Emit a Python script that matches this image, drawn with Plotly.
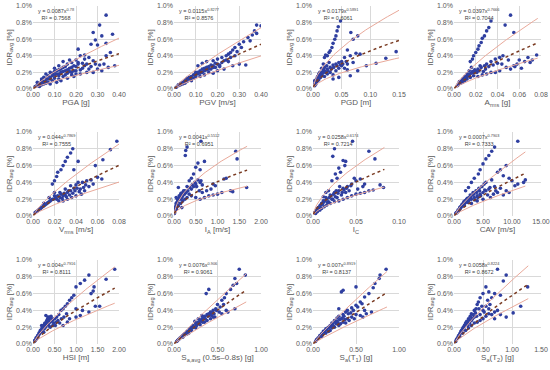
import numpy as np
import plotly.graph_objects as go

# ---------------- data (y in %) ----------------
pga_x = [0.34,0.31,0.28,0.37,0.32,0.29,0.30,0.34,0.21,0.27,0.36,0.26,0.22,0.24,0.20,0.18,0.16,0.14,0.12,0.10,0.13,0.15,0.17,0.19,0.21,0.23,0.25,0.27,0.29,0.30,0.31,0.33,0.35,0.38,0.32,0.28,0.25,0.22,0.19,0.16,0.14,0.12,0.11,0.09,0.08,0.07,0.06,0.05,0.04,0.03,0.02,0.01,0.02,0.05,0.07,0.09,0.10,0.13,0.15,0.18,0.20,0.23,0.26,0.17,0.06,0.04,0.12,0.08,0.11,0.03,0.24,0.21,0.28,0.34,
         0.02,0.03,0.04,0.05,0.06,0.07,0.08,0.09,0.10,0.11,0.12,0.13,0.14,0.15,0.16,0.17,0.18,0.19,0.20,0.22,0.04,0.06,0.08,0.10,0.12,0.14,0.16,0.18,0.20,0.24]
pga_y = [0.89,0.77,0.68,0.66,0.64,0.59,0.53,0.55,0.48,0.54,0.44,0.38,0.40,0.41,0.35,0.32,0.30,0.33,0.28,0.25,0.20,0.22,0.25,0.28,0.30,0.31,0.30,0.27,0.30,0.24,0.29,0.30,0.26,0.28,0.22,0.20,0.20,0.18,0.15,0.13,0.15,0.12,0.18,0.16,0.20,0.12,0.10,0.14,0.08,0.06,0.05,0.03,0.08,0.06,0.08,0.10,0.13,0.10,0.17,0.20,0.22,0.25,0.24,0.35,0.18,0.12,0.23,0.06,0.08,0.03,0.36,0.32,0.34,0.40,
         0.04,0.07,0.10,0.09,0.13,0.16,0.14,0.19,0.17,0.22,0.18,0.24,0.21,0.27,0.19,0.21,0.26,0.22,0.27,0.23,0.05,0.07,0.12,0.21,0.16,0.26,0.23,0.17,0.18,0.28]

pgv_x = [0.38,0.40,0.37,0.38,0.36,0.34,0.32,0.30,0.28,0.27,0.25,0.24,0.22,0.20,0.18,0.15,0.13,0.11,0.24,0.26,0.27,0.30,0.33,0.23,0.20,0.18,0.16,0.14,0.12,0.10,0.08,0.06,0.05,0.04,0.03,0.02,0.01,0.08,0.10,0.12,0.14,0.16,0.18,0.20,0.22,0.05,0.07,0.09,0.11,0.13,0.15,0.17,0.19,0.21,0.03,0.06,
         0.02,0.03,0.04,0.05,0.06,0.07,0.08,0.09,0.10,0.11,0.12,0.13,0.14,0.15,0.16,0.17,0.18,0.19,0.21,0.23,0.25,0.26,0.28,0.29,0.31,0.35]
pgv_y = [0.77,0.76,0.70,0.67,0.65,0.62,0.57,0.54,0.50,0.47,0.42,0.40,0.38,0.36,0.34,0.33,0.31,0.28,0.35,0.38,0.28,0.30,0.29,0.24,0.22,0.19,0.20,0.17,0.15,0.15,0.10,0.09,0.07,0.06,0.05,0.04,0.02,0.15,0.20,0.22,0.25,0.27,0.28,0.30,0.32,0.10,0.12,0.13,0.18,0.20,0.23,0.24,0.26,0.27,0.07,0.13,
         0.05,0.06,0.08,0.09,0.11,0.14,0.13,0.17,0.18,0.20,0.19,0.24,0.22,0.26,0.24,0.29,0.26,0.31,0.29,0.34,0.33,0.44,0.40,0.45,0.50,0.58]

pgd_x = [0.048,0.044,0.042,0.040,0.038,0.035,0.033,0.030,0.028,0.025,0.022,0.020,0.066,0.070,0.078,0.060,0.075,0.082,0.065,0.055,0.050,0.045,0.040,0.035,0.030,0.025,0.020,0.018,0.015,0.012,0.010,0.008,0.006,0.004,0.002,0.003,0.005,0.007,0.010,0.013,0.016,0.020,0.025,0.030,0.035,0.040,0.045,0.050,0.055,0.060,0.065,0.078,0.093,0.110,0.127,0.145,0.070,0.060,0.045,0.035,
         0.003,0.004,0.005,0.006,0.007,0.008,0.009,0.010,0.011,0.012,0.014,0.015,0.017,0.018,0.020,0.022,0.024,0.026,0.028,0.032,0.036,0.042,0.048,0.052,0.058]
pgd_y = [0.82,0.75,0.70,0.64,0.60,0.55,0.50,0.46,0.44,0.40,0.41,0.38,0.68,0.60,0.64,0.47,0.43,0.42,0.40,0.38,0.33,0.32,0.30,0.29,0.26,0.24,0.22,0.30,0.25,0.20,0.18,0.15,0.12,0.08,0.05,0.10,0.06,0.09,0.11,0.14,0.16,0.15,0.18,0.20,0.17,0.22,0.25,0.28,0.25,0.23,0.16,0.22,0.28,0.31,0.37,0.45,0.32,0.30,0.14,0.12,
         0.04,0.06,0.08,0.09,0.12,0.10,0.14,0.13,0.16,0.15,0.18,0.20,0.19,0.23,0.26,0.20,0.28,0.22,0.32,0.24,0.26,0.28,0.29,0.30,0.33]

arms_x = [0.052,0.047,0.055,0.034,0.032,0.030,0.028,0.026,0.025,0.023,0.022,0.020,0.018,0.017,0.015,0.076,0.072,0.068,0.065,0.060,0.058,0.055,0.050,0.045,0.042,0.038,0.034,0.030,0.028,0.025,0.022,0.020,0.048,0.052,0.056,0.062,0.070,0.042,0.038,0.034,0.030,0.026,0.022,0.018,0.015,0.012,0.010,0.008,0.006,0.004,0.003,0.012,0.014,0.016,0.010,0.008,0.005,0.018,
          0.004,0.005,0.006,0.007,0.008,0.009,0.010,0.011,0.012,0.013,0.014,0.016,0.017,0.019,0.021,0.023,0.024,0.027,0.029,0.032,0.036,0.040,0.044]
arms_y = [0.89,0.77,0.68,0.82,0.74,0.70,0.64,0.61,0.56,0.52,0.48,0.44,0.40,0.36,0.33,0.41,0.35,0.38,0.33,0.35,0.30,0.28,0.35,0.40,0.38,0.36,0.33,0.30,0.28,0.26,0.24,0.22,0.26,0.24,0.27,0.25,0.32,0.22,0.20,0.20,0.18,0.17,0.15,0.16,0.14,0.12,0.10,0.08,0.07,0.05,0.04,0.18,0.22,0.26,0.15,0.12,0.09,0.20,
          0.06,0.07,0.09,0.10,0.10,0.13,0.12,0.14,0.15,0.16,0.18,0.19,0.21,0.23,0.20,0.22,0.28,0.21,0.24,0.27,0.29,0.31,0.30]

vrms_x = [0.037,0.035,0.032,0.030,0.028,0.026,0.023,0.022,0.020,0.018,0.042,0.038,0.078,0.072,0.065,0.058,0.060,0.064,0.054,0.050,0.046,0.042,0.040,0.038,0.035,0.032,0.030,0.028,0.025,0.022,0.020,0.018,0.016,0.014,0.012,0.010,0.008,0.006,0.004,0.002,0.044,0.048,0.052,0.056,0.035,0.030,0.025,0.020,0.015,0.010,0.045,0.040,0.036,0.032,0.028,
          0.003,0.005,0.007,0.009,0.011,0.013,0.015,0.017,0.019,0.021,0.023,0.024,0.026,0.027,0.029,0.031,0.033,0.034,0.037,0.039,0.041,0.043,0.047,0.049]
vrms_y = [0.80,0.75,0.70,0.65,0.60,0.55,0.52,0.47,0.42,0.38,0.65,0.55,0.89,0.79,0.67,0.60,0.46,0.44,0.43,0.42,0.40,0.40,0.37,0.33,0.30,0.28,0.25,0.24,0.22,0.20,0.24,0.20,0.18,0.16,0.14,0.12,0.10,0.08,0.06,0.04,0.32,0.30,0.35,0.38,0.36,0.32,0.28,0.28,0.22,0.15,0.26,0.24,0.22,0.20,0.18,
          0.05,0.07,0.09,0.11,0.13,0.15,0.17,0.19,0.20,0.22,0.24,0.18,0.26,0.21,0.27,0.23,0.30,0.25,0.27,0.30,0.33,0.29,0.34,0.37]

ia_x = [0.30,0.27,0.26,0.62,1.42,1.45,0.70,0.55,0.50,0.60,0.45,0.40,0.35,0.55,0.60,0.65,0.50,0.45,0.40,0.30,0.25,0.20,0.10,0.15,0.12,0.08,0.05,0.03,0.02,0.01,0.06,0.10,0.15,0.20,0.25,0.30,0.35,0.40,0.50,0.60,0.70,0.80,0.90,1.00,1.10,1.30,1.35,1.67,0.90,0.95,1.15,1.20,0.75,0.85,0.65,0.05,0.08,0.18,
        0.02,0.03,0.04,0.05,0.06,0.07,0.08,0.09,0.10,0.12,0.14,0.16,0.18,0.20,0.22,0.24,0.28,0.32,0.36,0.42,0.48,0.52,0.58,0.62]
ia_y = [0.82,0.78,0.72,0.89,0.77,0.68,0.65,0.63,0.58,0.55,0.50,0.45,0.42,0.43,0.40,0.37,0.38,0.35,0.32,0.35,0.30,0.28,0.34,0.25,0.22,0.20,0.15,0.10,0.05,0.03,0.08,0.12,0.15,0.18,0.20,0.22,0.26,0.24,0.22,0.20,0.22,0.24,0.25,0.26,0.28,0.30,0.29,0.34,0.38,0.36,0.44,0.45,0.30,0.32,0.28,0.22,0.13,0.10,
        0.07,0.09,0.11,0.12,0.14,0.16,0.17,0.19,0.20,0.24,0.20,0.27,0.22,0.24,0.30,0.26,0.28,0.30,0.34,0.37,0.40,0.35,0.30,0.42]

ic_x = [0.046,0.025,0.023,0.065,0.072,0.035,0.038,0.030,0.037,0.032,0.026,0.028,0.022,0.048,0.055,0.050,0.045,0.040,0.035,0.030,0.025,0.020,0.018,0.015,0.012,0.010,0.008,0.006,0.004,0.002,0.003,0.005,0.008,0.010,0.013,0.016,0.020,0.025,0.030,0.035,0.040,0.045,0.050,0.055,0.060,0.065,0.070,0.078,0.082,0.060,0.058,0.042,0.038,0.033,0.028,0.022,0.018,0.012,0.015,
        0.003,0.004,0.005,0.006,0.007,0.009,0.011,0.012,0.014,0.016,0.017,0.019,0.021,0.023,0.024,0.026,0.027,0.029,0.031,0.034,0.036,0.039,0.044,0.052]
ic_y = [0.89,0.80,0.71,0.77,0.68,0.66,0.65,0.57,0.60,0.52,0.50,0.45,0.42,0.45,0.44,0.42,0.38,0.35,0.33,0.30,0.28,0.25,0.30,0.22,0.18,0.15,0.12,0.10,0.07,0.04,0.03,0.05,0.07,0.09,0.11,0.13,0.15,0.17,0.18,0.20,0.22,0.24,0.26,0.27,0.28,0.30,0.31,0.37,0.34,0.38,0.35,0.30,0.28,0.25,0.22,0.20,0.17,0.23,0.28,
        0.05,0.06,0.08,0.09,0.10,0.13,0.14,0.16,0.18,0.20,0.16,0.22,0.24,0.20,0.26,0.23,0.30,0.27,0.35,0.28,0.31,0.33,0.36,0.32]

cav_x = [11.0,7.0,6.5,6.0,5.5,5.0,4.5,4.2,3.5,3.0,2.5,2.0,9.0,8.0,7.5,6.5,8.5,9.5,10.0,11.0,12.3,12.0,10.5,9.0,8.0,7.0,6.0,5.5,5.0,4.5,4.0,3.5,3.0,2.5,2.0,1.5,1.0,0.5,0.3,0.8,1.2,1.8,2.2,2.8,3.3,3.8,4.3,4.8,5.2,5.8,6.3,6.8,7.5,8.5,9.5,3.0,4.0,5.0,5.5,
         0.4,0.6,0.7,0.9,1.0,1.1,1.3,1.4,1.6,1.7,1.9,2.1,2.3,2.4,2.6,2.7,2.9,3.1,3.4,3.6,3.9,4.1,4.4,4.6,5.3,6.2,7.2]
cav_y = [0.89,0.82,0.77,0.72,0.68,0.62,0.55,0.50,0.45,0.40,0.34,0.30,0.60,0.55,0.52,0.43,0.48,0.45,0.42,0.38,0.43,0.40,0.36,0.30,0.33,0.35,0.32,0.30,0.28,0.26,0.24,0.22,0.20,0.18,0.16,0.12,0.08,0.04,0.03,0.06,0.10,0.13,0.20,0.25,0.28,0.30,0.33,0.35,0.38,0.25,0.22,0.26,0.28,0.25,0.28,0.15,0.18,0.20,0.40,
         0.04,0.05,0.07,0.08,0.10,0.11,0.12,0.14,0.15,0.17,0.18,0.19,0.21,0.16,0.22,0.20,0.23,0.25,0.26,0.19,0.28,0.22,0.30,0.24,0.31,0.34,0.30]

hsi_x = [1.90,1.70,1.30,1.20,1.10,1.00,1.42,1.40,1.35,1.45,1.55,0.95,0.90,0.85,0.80,0.75,0.70,0.65,1.00,1.15,1.30,1.10,1.00,0.85,0.80,0.70,0.60,0.55,0.50,0.45,0.40,0.35,0.30,0.25,0.20,0.15,0.10,0.05,0.03,0.08,0.12,0.18,0.22,0.28,0.32,0.38,0.42,0.48,0.52,0.58,0.62,0.30,0.35,0.40,0.20,0.25,0.72,0.78,
         0.04,0.06,0.07,0.09,0.11,0.13,0.14,0.16,0.17,0.19,0.21,0.23,0.24,0.26,0.27,0.29,0.31,0.33,0.34,0.36,0.37,0.39,0.44,0.46,0.54,0.66]
hsi_y = [0.89,0.77,0.82,0.76,0.72,0.68,0.68,0.63,0.60,0.45,0.45,0.58,0.55,0.52,0.48,0.45,0.42,0.40,0.42,0.40,0.38,0.34,0.32,0.30,0.26,0.22,0.35,0.32,0.30,0.28,0.26,0.24,0.22,0.20,0.16,0.12,0.08,0.04,0.03,0.06,0.10,0.14,0.18,0.25,0.28,0.30,0.33,0.25,0.22,0.28,0.25,0.34,0.32,0.20,0.22,0.14,0.32,0.36,
         0.04,0.05,0.07,0.08,0.10,0.11,0.13,0.14,0.16,0.17,0.19,0.20,0.22,0.18,0.24,0.20,0.26,0.23,0.30,0.27,0.22,0.32,0.30,0.22,0.26,0.30]

saavg_x = [0.75,0.82,0.70,0.68,0.72,0.40,0.37,0.65,0.60,0.58,0.55,0.50,0.48,0.45,0.42,0.40,0.38,0.35,0.32,0.30,0.28,0.25,0.22,0.20,0.18,0.15,0.12,0.10,0.08,0.06,0.04,0.03,0.60,0.55,0.62,0.70,0.47,0.45,0.42,0.38,0.35,0.30,0.25,0.20,0.15,0.10,0.32,0.28,0.24,0.46,0.52,0.17,0.13,
           0.05,0.07,0.09,0.11,0.14,0.16,0.19,0.21,0.23,0.26,0.27,0.29,0.31,0.33,0.34,0.36,0.39,0.41,0.43,0.44,0.49,0.53,0.57]
saavg_y = [0.89,0.82,0.78,0.70,0.72,0.65,0.60,0.65,0.60,0.55,0.52,0.47,0.42,0.40,0.38,0.36,0.35,0.33,0.30,0.28,0.26,0.24,0.22,0.20,0.18,0.15,0.12,0.10,0.08,0.06,0.04,0.03,0.40,0.36,0.38,0.42,0.32,0.32,0.30,0.28,0.26,0.23,0.19,0.16,0.12,0.08,0.34,0.30,0.27,0.36,0.38,0.13,0.11,
           0.05,0.07,0.09,0.11,0.13,0.15,0.17,0.19,0.20,0.22,0.25,0.24,0.27,0.26,0.31,0.30,0.33,0.35,0.34,0.37,0.40,0.44,0.47]

sat1_x = [0.85,0.78,0.77,0.72,0.50,0.35,0.33,0.70,0.65,0.60,0.55,0.50,0.45,0.40,0.38,0.35,0.30,0.28,0.30,0.25,0.22,0.20,0.18,0.15,0.12,0.10,0.08,0.06,0.04,0.03,0.68,0.62,0.55,0.50,0.45,0.40,0.35,0.32,0.30,0.25,0.20,0.15,0.10,0.42,0.38,0.48,0.58,0.60,0.33,0.27,0.22,0.18,
          0.05,0.07,0.09,0.11,0.13,0.14,0.16,0.17,0.19,0.21,0.23,0.24,0.26,0.28,0.29,0.31,0.34,0.36,0.37,0.41,0.44,0.47,0.52,0.57]
sat1_y = [0.89,0.82,0.78,0.72,0.68,0.64,0.62,0.67,0.60,0.56,0.50,0.46,0.43,0.40,0.38,0.35,0.33,0.31,0.42,0.28,0.25,0.22,0.20,0.18,0.15,0.12,0.10,0.07,0.05,0.03,0.38,0.36,0.34,0.35,0.32,0.30,0.26,0.24,0.22,0.20,0.16,0.13,0.09,0.28,0.25,0.30,0.32,0.40,0.30,0.24,0.19,0.15,
          0.06,0.08,0.10,0.11,0.14,0.16,0.17,0.19,0.20,0.22,0.24,0.21,0.26,0.27,0.25,0.29,0.31,0.33,0.29,0.36,0.37,0.40,0.44,0.48]

sat2_x = [0.75,0.90,0.85,1.27,0.55,0.50,0.60,0.65,0.70,0.80,0.45,0.42,0.40,0.38,0.35,0.30,0.28,0.25,0.22,0.20,0.18,0.15,0.12,0.10,0.08,0.06,0.04,0.03,1.15,1.02,0.90,0.80,0.75,0.70,0.65,0.60,0.55,0.50,0.45,0.40,0.35,0.30,0.25,0.20,0.15,0.10,0.50,0.55,0.60,0.35,0.30,0.45,0.70,
          0.05,0.07,0.09,0.11,0.13,0.14,0.16,0.17,0.19,0.21,0.23,0.24,0.26,0.27,0.29,0.32,0.33,0.37,0.39,0.43,0.48,0.52,0.58,0.62]
sat2_y = [0.89,0.82,0.75,0.68,0.68,0.60,0.62,0.55,0.60,0.58,0.55,0.50,0.47,0.42,0.40,0.36,0.33,0.30,0.27,0.25,0.22,0.18,0.15,0.12,0.10,0.07,0.05,0.03,0.45,0.37,0.32,0.35,0.40,0.38,0.35,0.36,0.33,0.30,0.28,0.26,0.25,0.22,0.19,0.16,0.13,0.09,0.40,0.45,0.42,0.32,0.28,0.35,0.30,
          0.06,0.08,0.10,0.13,0.16,0.17,0.20,0.19,0.23,0.24,0.26,0.22,0.29,0.25,0.32,0.30,0.35,0.37,0.33,0.42,0.45,0.38,0.52,0.47]

xs_all = [pga_x, pgv_x, pgd_x, arms_x, vrms_x, ia_x, ic_x, cav_x, hsi_x, saavg_x, sat1_x, sat2_x]
ys_all = [pga_y, pgv_y, pgd_y, arms_y, vrms_y, ia_y, ic_y, cav_y, hsi_y, saavg_y, sat1_y, sat2_y]

x_titles = ["PGA [g]", "PGV [m/s]", "PGD [m]", "A<sub>rms</sub> [g]",
            "V<sub>rms</sub> [m/s]", "I<sub>A</sub> [m/s]", "I<sub>C</sub>", "CAV [m/s]",
            "HSI [m]", "S<sub>a,avg</sub> (0.5s–0.8s) [g]", "S<sub>a</sub>(T<sub>1</sub>) [g]", "S<sub>a</sub>(T<sub>2</sub>) [g]"]
x_max = [0.40, 0.40, 0.15, 0.08, 0.08, 2.00, 0.10, 15.00, 2.00, 1.00, 1.00, 1.50]
x_dtick = [0.10, 0.10, 0.05, 0.02, 0.02, 0.50, 0.05, 5.00, 0.50, 0.50, 0.50, 0.50]

# trendline equations shown on the chart: y = a x^b
fit_a = [0.0087, 0.0115, 0.0179, 0.0397, 0.044, 0.0041, 0.0258, 0.0007, 0.004, 0.0076, 0.007, 0.0058]
fit_b = [0.78, 0.8277, 0.5891, 0.7666, 0.7869, 0.5512, 0.6174, 0.7903, 0.7916, 0.906, 0.8919, 0.8224]
fit_b_txt = ["0.78", "0.8277", "0.5891", "0.7666", "0.7869", "0.5512", "0.6174", "0.7903", "0.7916", "0.906", "0.8919", "0.8224"]
r2_txt = ["0.7568", "0.8576", "0.6061", "0.7044", "0.7555", "0.6951", "0.7214", "0.7333", "0.8111", "0.9061", "0.8137", "0.8672"]
fit_end = [0.40, 0.40, 0.15, 0.077, 0.08, 1.68, 0.083, 12.3, 1.90, 0.83, 0.86, 1.28]
upper_ratio = [1.44, 1.37, 1.62, 1.53, 1.42, 1.52, 1.47, 1.50, 1.38, 1.30, 1.41, 1.31]
lower_ratio = [0.67, 0.74, 0.64, 0.67, 0.67, 0.65, 0.62, 0.70, 0.73, 0.78, 0.72, 0.76]

# ---------------- layout geometry ----------------
W, H = 550, 370
col_px = [(33, 119), (174, 261), (313, 399), (454, 541)]
row_px = [(6, 89), (132, 216), (260, 344)]

fig = go.Figure()
PT = "#2F3FA0"
annotations = []
layout = {}
for i in range(12):
    r, c = divmod(i, 4)
    k = "" if i == 0 else str(i + 1)
    xa, ya = "x" + k, "y" + k
    fig.add_trace(go.Scatter(x=xs_all[i], y=ys_all[i], mode="markers",
                             marker=dict(size=3.6, color=PT), xaxis=xa, yaxis=ya,
                             showlegend=False, hoverinfo="skip"))
    xx = np.linspace(fit_end[i] * 0.005, fit_end[i], 60)
    mean = 100 * fit_a[i] * xx ** fit_b[i]
    fig.add_trace(go.Scatter(x=xx, y=mean * upper_ratio[i], mode="lines",
                             line=dict(color="#E9A99A", width=1), xaxis=xa, yaxis=ya,
                             showlegend=False, hoverinfo="skip"))
    fig.add_trace(go.Scatter(x=xx, y=mean * lower_ratio[i], mode="lines",
                             line=dict(color="#E9A99A", width=1), xaxis=xa, yaxis=ya,
                             showlegend=False, hoverinfo="skip"))
    fig.add_trace(go.Scatter(x=xx, y=mean, mode="lines",
                             line=dict(color="#7A3B22", width=1.5, dash="dot"), xaxis=xa, yaxis=ya,
                             showlegend=False, hoverinfo="skip"))
    x0, x1 = col_px[c]
    y0, y1 = row_px[r]
    layout["xaxis" + k] = dict(domain=[x0 / W, x1 / W], anchor=ya, range=[0, x_max[i]],
                               dtick=x_dtick[i], tick0=0, tickformat=".2f", automargin=False,
                               showgrid=True, gridcolor="#D9D9D9", gridwidth=1,
                               zeroline=False, showline=False, ticks="",
                               tickfont=dict(size=7, color="#595959"),
                               title=dict(text=x_titles[i], font=dict(size=8, color="#595959"), standoff=2))
    layout["yaxis" + k] = dict(domain=[1 - y1 / H, 1 - y0 / H], anchor=xa, range=[0, 1.0],
                               dtick=0.2, tick0=0, tickformat=".1f", ticksuffix="%", automargin=False,
                               showgrid=True, gridcolor="#D9D9D9", gridwidth=1,
                               zeroline=False, showline=False, ticks="",
                               tickfont=dict(size=7, color="#595959"),
                               title=dict(text="IDR<sub>avg</sub> [%]", font=dict(size=8, color="#595959"), standoff=2))
    annotations.append(dict(xref=xa + " domain", yref=ya + " domain", x=0.04, y=1.0,
                            xanchor="left", yanchor="top", showarrow=False, align="center",
                            text="y = %sx<sup>%s</sup><br>R² = %s" % (fit_a[i], fit_b_txt[i], r2_txt[i]),
                            font=dict(size=5.5, color="#404040")))

fig.update_layout(width=W, height=H, margin=dict(l=0, r=0, t=0, b=0),
                  paper_bgcolor="white", plot_bgcolor="white",
                  font=dict(family="Liberation Sans, Arial, sans-serif"),
                  annotations=annotations, **layout)
fig.write_html("out.html", config={"displayModeBar": False},
               post_script="document.body.style.margin='0';document.body.style.overflow='hidden';")
